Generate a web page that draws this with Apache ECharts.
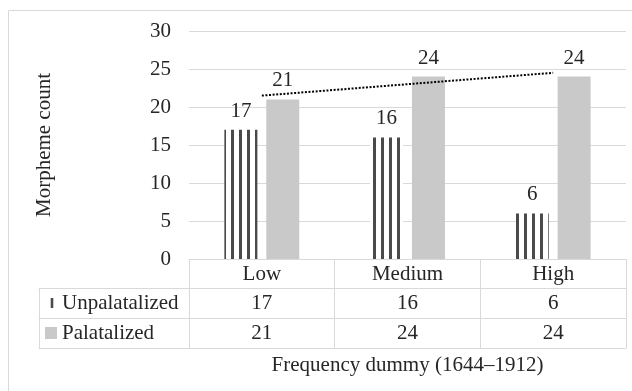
<!DOCTYPE html>
<html><head><meta charset="utf-8">
<script src="https://cdn.jsdelivr.net/npm/echarts@6/dist/echarts.min.js"></script>
<style>html,body{margin:0;padding:0;background:#fff}#c{width:632px;height:391px}</style>
</head><body><div id="c"></div>
<script>
// ---- data ----
const categories = ['Low', 'Medium', 'High'];
const unpalatalized = [17, 16, 6];
const palatalized = [21, 24, 24];
const seriesNames = ['Unpalatalized', 'Palatalized'];
const yMin = 0, yMax = 30, yStep = 5;
const yTitle = 'Morpheme count';
const xTitle = 'Frequency dummy (1644\u20131912)';

// ---- style ----
const FONT = "'Liberation Serif','Times New Roman',serif";
const FS = 21;
const TXT = '#262626';
const LINE = '#D9D9D9';
const GREY = '#C9C9CA';
const STRIPE = '#4a4a4a';
const stripePhase = [7, 5, 4];

function stripes(phase) {
  const c = document.createElement('canvas');
  c.width = 8; c.height = 8;
  const g = c.getContext('2d');
  g.fillStyle = '#fff'; g.fillRect(0, 0, 8, 8);
  g.fillStyle = STRIPE;
  for (let k = 0; k < 3; k++) g.fillRect((phase + k) % 8, 0, 1, 8);
  return c;
}

// linear trend of a series (Excel-style linear trendline)
function linFit(ys) {
  const n = ys.length;
  const xs = ys.map((_, i) => i + 1);
  const mx = xs.reduce((a, b) => a + b, 0) / n;
  const my = ys.reduce((a, b) => a + b, 0) / n;
  let sxy = 0, sxx = 0;
  for (let i = 0; i < n; i++) { sxy += (xs[i] - mx) * (ys[i] - my); sxx += (xs[i] - mx) ** 2; }
  const b = sxy / sxx, a = my - b * mx;
  return xs.map(x => a + b * x);
}

const txt = { fontFamily: FONT, fontSize: FS, color: TXT };

function rowAxis(gridIndex, data, offset, opts) {
  return Object.assign({
    type: 'category', gridIndex, data, position: 'bottom', offset,
    axisLine: { show: true, onZero: false, lineStyle: { color: LINE, width: 1 } },
    axisTick: { show: true, interval: 0, length: 30, lineStyle: { color: LINE, width: 1 } },
    axisLabel: Object.assign({ interval: 0, margin: 15, verticalAlign: 'middle' }, txt),
    splitLine: { show: false }
  }, opts || {});
}

const legendRich = {
  p1: { width: 11.7 },
  m1: { width: 2.6, height: 10, backgroundColor: STRIPE },
  g1: { width: 8.7 },
  p2: { width: 6 },
  m2: { width: 12, height: 12, backgroundColor: GREY },
  g2: { width: 5 },
  t: { fontFamily: FONT, fontSize: FS, color: TXT }
};

// legend column: value axis 0..1 so that its two ticks are the column borders
function legendAxis(offset, fmt) {
  return {
    type: 'value', gridIndex: 1, min: 0, max: 1, interval: 1, position: 'bottom', offset,
    axisLine: { show: true, onZero: false, lineStyle: { color: LINE, width: 1 } },
    axisTick: { show: fmt !== null, length: 30, lineStyle: { color: LINE, width: 1 } },
    axisLabel: fmt === null ? { show: false } : Object.assign({
      margin: 15, verticalAlign: 'middle', align: 'left', rich: legendRich,
      formatter: v => (v === 0 ? fmt : '')
    }, txt),
    splitLine: { show: false }
  };
}

const option = {
  animation: false,
  backgroundColor: '#fff',
  graphic: [{
    type: 'rect', z: -10, silent: true,
    shape: { x: 8.5, y: 10.5, width: 700, height: 500 },
    style: { fill: 'none', stroke: LINE, lineWidth: 1 }
  }],
  grid: [
    { left: 189, right: 6, top: 31, bottom: 132 },
    { left: 39, width: 150, top: 31, bottom: 132 }
  ],
  xAxis: [
    rowAxis(0, categories, 0, { axisTick: { show: true, interval: 0, length: 29, lineStyle: { color: LINE } } }),
    rowAxis(0, unpalatalized.map(String), 29),
    rowAxis(0, palatalized.map(String), 59),
    rowAxis(0, categories, 89, {
      axisTick: { show: false }, axisLabel: { show: false },
      name: xTitle, nameLocation: 'middle', nameGap: 7, nameTextStyle: txt
    }),
    legendAxis(29, '{p1|}{m1|}{g1|}{t|' + seriesNames[0] + '}'),
    legendAxis(59, '{p2|}{m2|}{g2|}{t|' + seriesNames[1] + '}'),
    legendAxis(89, null)
  ],
  yAxis: [
    {
      type: 'value', gridIndex: 0, min: yMin, max: yMax, interval: yStep,
      axisLine: { show: false }, axisTick: { show: false },
      axisLabel: Object.assign({ margin: 18 }, txt),
      splitLine: { lineStyle: { color: LINE, width: 1 } },
      name: yTitle, nameLocation: 'middle', nameGap: 134, nameTextStyle: txt
    },
    { type: 'value', gridIndex: 1, min: 0, max: 1, show: false }
  ],
  series: [
    {
      name: seriesNames[0], type: 'bar', xAxisIndex: 0, yAxisIndex: 0,
      barWidth: 33, barGap: '27%',
      data: unpalatalized.map((v, i) => ({ value: v, itemStyle: { color: { image: stripes(stripePhase[i]), repeat: 'repeat' } } })),
      label: Object.assign({ show: true, position: 'top', distance: 8 }, txt)
    },
    {
      name: seriesNames[1], type: 'bar', xAxisIndex: 0, yAxisIndex: 0,
      barWidth: 33, barGap: '27%',
      itemStyle: { color: GREY },
      data: palatalized,
      label: Object.assign({ show: true, position: 'top', distance: 8 }, txt)
    },
    {
      name: 'Linear (' + seriesNames[1] + ')', type: 'line', xAxisIndex: 0, yAxisIndex: 0,
      data: linFit(palatalized), symbol: 'none', silent: true, z: 5,
      lineStyle: { color: '#000', width: 2, type: [2, 1.6] }
    }
  ]
};

const chart = echarts.init(document.getElementById('c'), null, { renderer: 'canvas' });
chart.setOption(option);
</script>
</body></html>
